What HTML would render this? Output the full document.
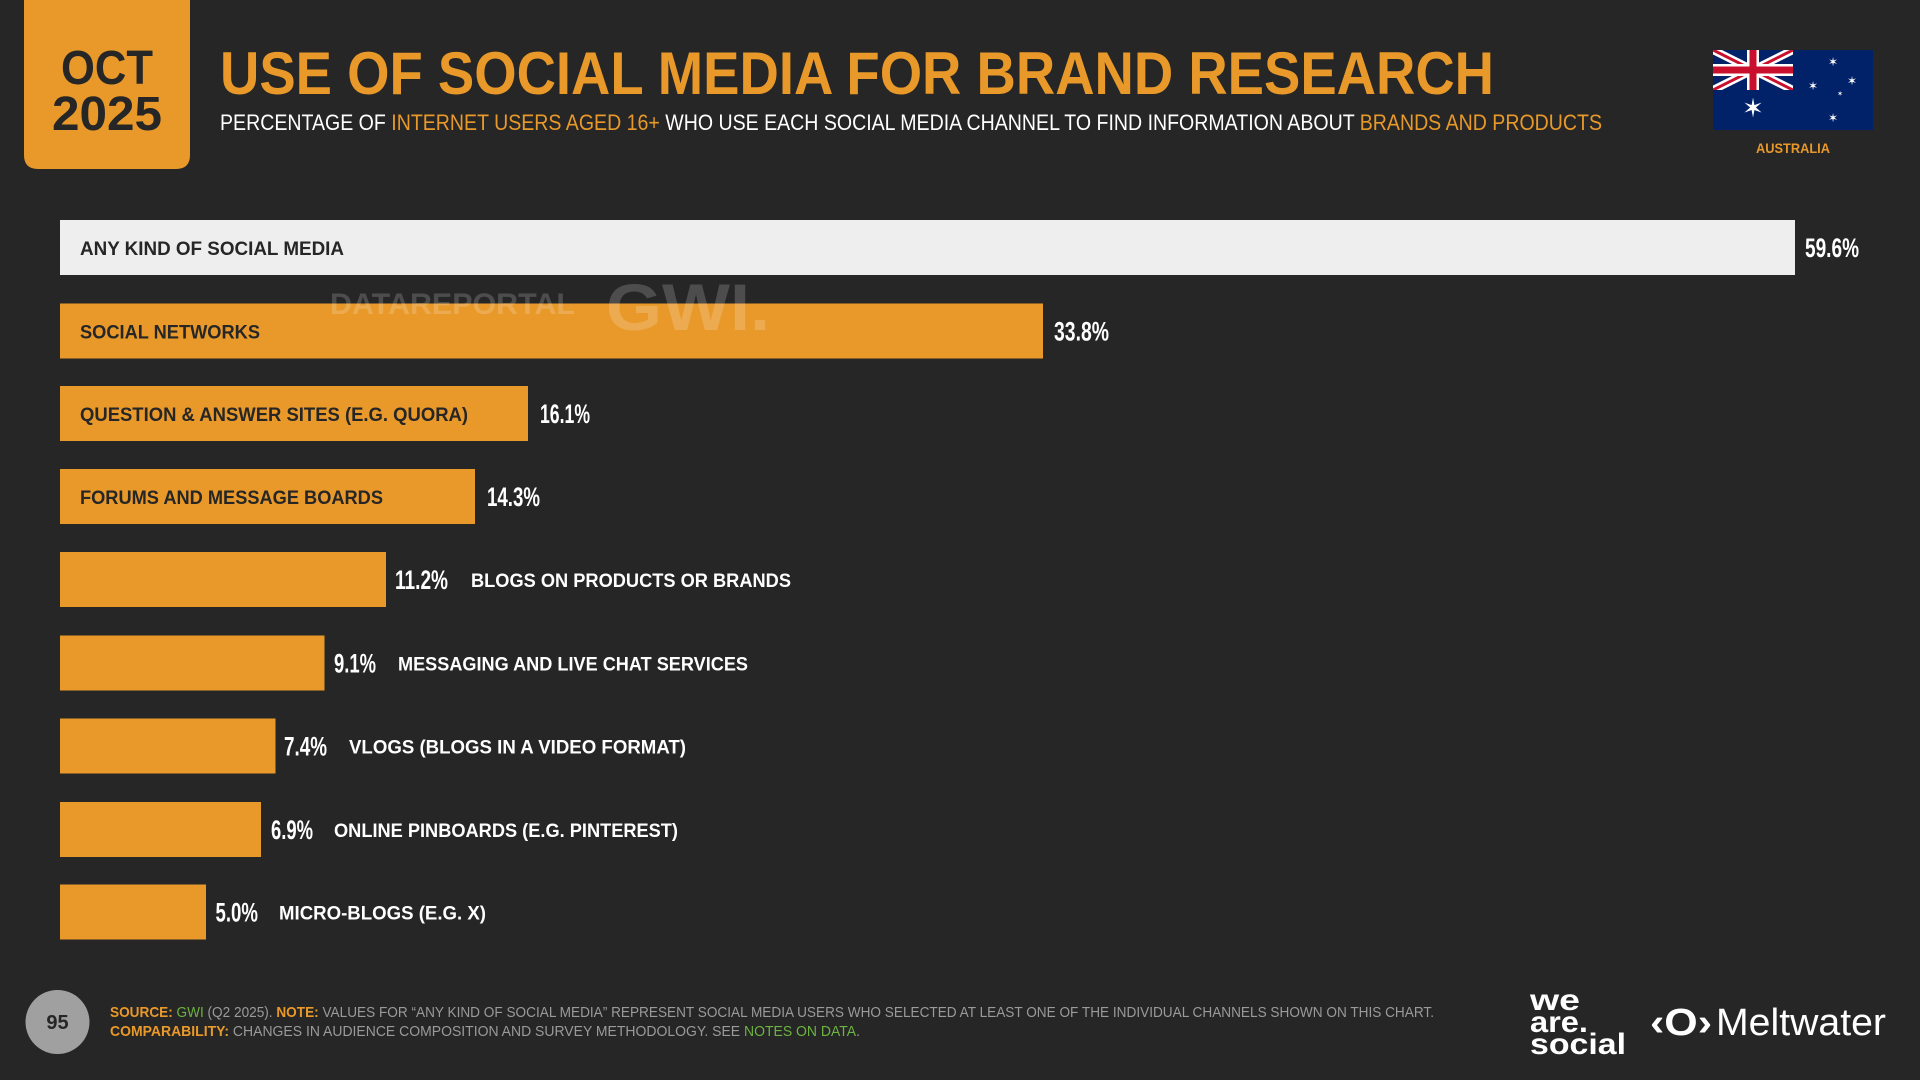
<!DOCTYPE html>
<html><head><meta charset="utf-8"><style>
html,body{margin:0;padding:0;background:#262626;width:1920px;height:1080px;overflow:hidden}
svg{display:block}
text{font-family:"Liberation Sans",sans-serif}
</style></head><body>
<svg width="1920" height="1080" viewBox="0 0 1920 1080" xmlns="http://www.w3.org/2000/svg">
<defs><clipPath id="uj"><rect x="1713" y="50" width="80" height="40"/></clipPath></defs>
<rect width="1920" height="1080" fill="#262626"/>
<path d="M24 0 H190 V155 Q190 169 176 169 H38 Q24 169 24 155 Z" fill="#E8992A"/>
<text x="107" y="84" text-anchor="middle" font-size="48" font-weight="bold" fill="#262626" textLength="92" lengthAdjust="spacingAndGlyphs">OCT</text>
<text x="107" y="130" text-anchor="middle" font-size="48" font-weight="bold" fill="#262626" textLength="110" lengthAdjust="spacingAndGlyphs">2025</text>
<text x="220" y="94" font-size="60" font-weight="bold" fill="#E8992A" textLength="1274" lengthAdjust="spacingAndGlyphs">USE OF SOCIAL MEDIA FOR BRAND RESEARCH</text>
<text x="220" y="130" font-size="22" fill="#ffffff" textLength="1382" lengthAdjust="spacingAndGlyphs">PERCENTAGE OF <tspan fill="#E8992A">INTERNET USERS AGED 16+</tspan> WHO USE EACH SOCIAL MEDIA CHANNEL TO FIND INFORMATION ABOUT <tspan fill="#E8992A">BRANDS AND PRODUCTS</tspan></text>
<g>
<rect x="1713" y="50" width="160" height="80" fill="#012169"/>
<g clip-path="url(#uj)">
<path d="M1713 50 L1793 90 M1793 50 L1713 90" stroke="#fff" stroke-width="8"/>
<path d="M1713 50 L1793 90 M1793 50 L1713 90" stroke="#C8102E" stroke-width="3"/>
<path d="M1753 50 V90 M1713 70 H1793" stroke="#fff" stroke-width="12"/>
<path d="M1753 50 V90 M1713 70 H1793" stroke="#C8102E" stroke-width="7"/>
</g>
<text x="1753" y="117" text-anchor="middle" font-size="26" fill="#fff">✶</text>
<text x="1833" y="66" text-anchor="middle" font-size="12" fill="#fff">✶</text>
<text x="1852" y="85" text-anchor="middle" font-size="12" fill="#fff">✶</text>
<text x="1813" y="90" text-anchor="middle" font-size="12" fill="#fff">✶</text>
<text x="1833" y="122" text-anchor="middle" font-size="12" fill="#fff">✶</text>
<text x="1840" y="96" text-anchor="middle" font-size="7" fill="#fff">✶</text>
</g>
<text x="1793" y="153" text-anchor="middle" font-size="14" font-weight="bold" fill="#E8992A" textLength="74" lengthAdjust="spacingAndGlyphs">AUSTRALIA</text>

<rect x="60" y="220" width="1735" height="55" fill="#EEEEEE"/>
<text x="80" y="255" font-size="19" font-weight="bold" fill="#262626" textLength="264" lengthAdjust="spacingAndGlyphs">ANY KIND OF SOCIAL MEDIA</text>
<text x="1805" y="257" font-size="27" font-weight="bold" fill="#fff" textLength="54" lengthAdjust="spacingAndGlyphs">59.6%</text>

<rect x="60" y="303.5" width="983" height="55" fill="#E8992A"/>
<text x="80" y="338.5" font-size="19" font-weight="bold" fill="#262626" textLength="180" lengthAdjust="spacingAndGlyphs">SOCIAL NETWORKS</text>
<text x="1054" y="340.5" font-size="27" font-weight="bold" fill="#fff" textLength="55" lengthAdjust="spacingAndGlyphs">33.8%</text>

<rect x="60" y="386" width="468" height="55" fill="#E8992A"/>
<text x="80" y="421" font-size="19" font-weight="bold" fill="#262626" textLength="388" lengthAdjust="spacingAndGlyphs">QUESTION &amp; ANSWER SITES (E.G. QUORA)</text>
<text x="540" y="423" font-size="27" font-weight="bold" fill="#fff" textLength="50" lengthAdjust="spacingAndGlyphs">16.1%</text>

<rect x="60" y="469" width="415" height="55" fill="#E8992A"/>
<text x="80" y="504" font-size="19" font-weight="bold" fill="#262626" textLength="303" lengthAdjust="spacingAndGlyphs">FORUMS AND MESSAGE BOARDS</text>
<text x="487" y="506" font-size="27" font-weight="bold" fill="#fff" textLength="53" lengthAdjust="spacingAndGlyphs">14.3%</text>

<rect x="60" y="552" width="326" height="55" fill="#E8992A"/>
<text x="395" y="589" font-size="27" font-weight="bold" fill="#fff" textLength="53" lengthAdjust="spacingAndGlyphs">11.2%</text>
<text x="471" y="587" font-size="19" font-weight="bold" fill="#fff" textLength="320" lengthAdjust="spacingAndGlyphs">BLOGS ON PRODUCTS OR BRANDS</text>

<rect x="60" y="635.5" width="264.5" height="55" fill="#E8992A"/>
<text x="334" y="672.5" font-size="27" font-weight="bold" fill="#fff" textLength="42" lengthAdjust="spacingAndGlyphs">9.1%</text>
<text x="398" y="670.5" font-size="19" font-weight="bold" fill="#fff" textLength="350" lengthAdjust="spacingAndGlyphs">MESSAGING AND LIVE CHAT SERVICES</text>

<rect x="60" y="718.5" width="215.5" height="55" fill="#E8992A"/>
<text x="284" y="755.5" font-size="27" font-weight="bold" fill="#fff" textLength="43" lengthAdjust="spacingAndGlyphs">7.4%</text>
<text x="349" y="753.5" font-size="19" font-weight="bold" fill="#fff" textLength="337" lengthAdjust="spacingAndGlyphs">VLOGS (BLOGS IN A VIDEO FORMAT)</text>

<rect x="60" y="802" width="201" height="55" fill="#E8992A"/>
<text x="271" y="839" font-size="27" font-weight="bold" fill="#fff" textLength="42" lengthAdjust="spacingAndGlyphs">6.9%</text>
<text x="334" y="837" font-size="19" font-weight="bold" fill="#fff" textLength="344" lengthAdjust="spacingAndGlyphs">ONLINE PINBOARDS (E.G. PINTEREST)</text>

<rect x="60" y="884.5" width="146" height="55" fill="#E8992A"/>
<text x="215.5" y="921.5" font-size="27" font-weight="bold" fill="#fff" textLength="42.5" lengthAdjust="spacingAndGlyphs">5.0%</text>
<text x="279" y="919.5" font-size="19" font-weight="bold" fill="#fff" textLength="207" lengthAdjust="spacingAndGlyphs">MICRO-BLOGS (E.G. X)</text>

<text x="330" y="314" font-size="30" font-weight="bold" fill="#ffffff" fill-opacity="0.18" textLength="245" lengthAdjust="spacingAndGlyphs">DATAREPORTAL</text>
<text x="606" y="330" font-size="66" font-weight="bold" fill="#ffffff" fill-opacity="0.18" textLength="164" lengthAdjust="spacingAndGlyphs">GWI.</text>

<ellipse cx="57.5" cy="1022" rx="32" ry="32" fill="#A0A0A0"/>
<text x="57.5" y="1029" text-anchor="middle" font-size="20" font-weight="bold" fill="#262626">95</text>
<text x="110" y="1017" font-size="15" fill="#9a9a9a" textLength="1324" lengthAdjust="spacingAndGlyphs"><tspan fill="#E8992A" font-weight="bold">SOURCE:</tspan> <tspan fill="#6DB33F">GWI</tspan> (Q2 2025). <tspan fill="#E8992A" font-weight="bold">NOTE:</tspan> VALUES FOR “ANY KIND OF SOCIAL MEDIA” REPRESENT SOCIAL MEDIA USERS WHO SELECTED AT LEAST ONE OF THE INDIVIDUAL CHANNELS SHOWN ON THIS CHART.</text>
<text x="110" y="1036" font-size="15" fill="#9a9a9a" textLength="750" lengthAdjust="spacingAndGlyphs"><tspan fill="#E8992A" font-weight="bold">COMPARABILITY:</tspan> CHANGES IN AUDIENCE COMPOSITION AND SURVEY METHODOLOGY. SEE <tspan fill="#6DB33F">NOTES ON DATA</tspan>.</text>
<text x="1530" y="1010" font-size="30" font-weight="bold" fill="#fff" textLength="50" lengthAdjust="spacingAndGlyphs">we</text>
<text x="1530" y="1032" font-size="30" font-weight="bold" fill="#fff" textLength="58" lengthAdjust="spacingAndGlyphs">are.</text>
<text x="1530" y="1054" font-size="30" font-weight="bold" fill="#fff" textLength="96" lengthAdjust="spacingAndGlyphs">social</text>
<text x="1650" y="1035" font-size="38" font-weight="bold" fill="#fff" textLength="62" lengthAdjust="spacingAndGlyphs">‹O›</text>
<text x="1716" y="1035" font-size="38" fill="#fff" textLength="170" lengthAdjust="spacingAndGlyphs">Meltwater</text>
</svg>
</body></html>
